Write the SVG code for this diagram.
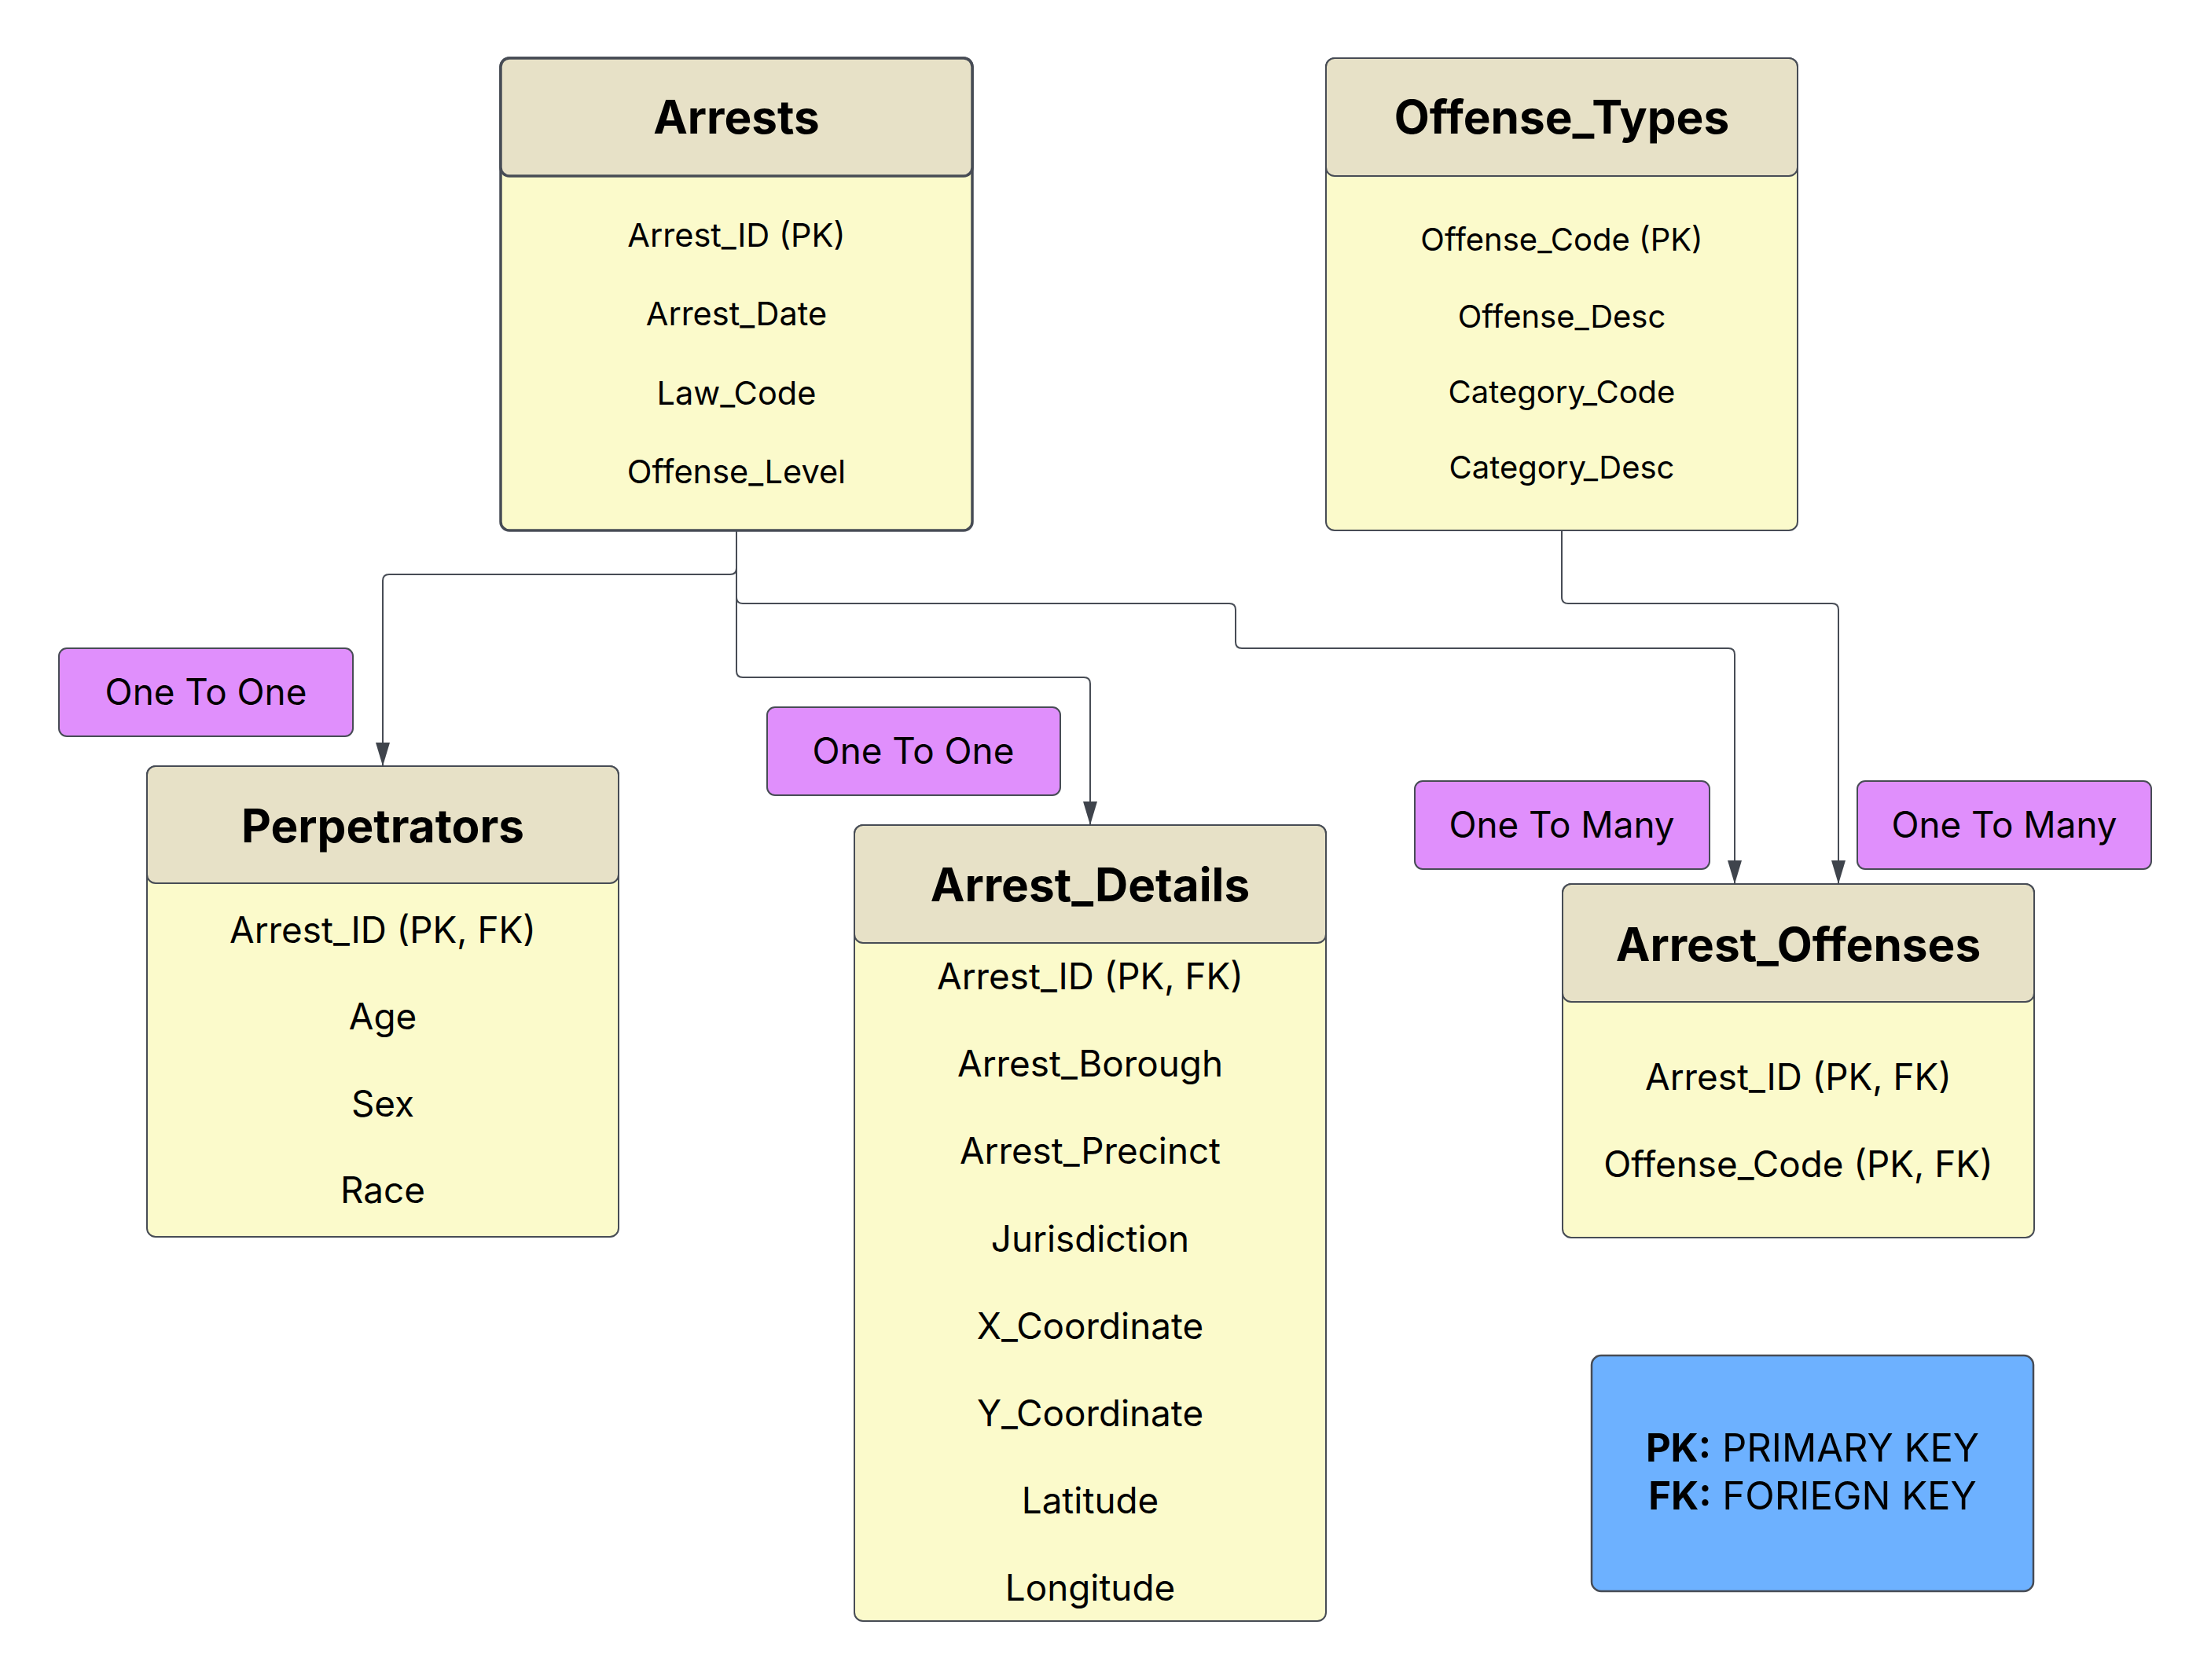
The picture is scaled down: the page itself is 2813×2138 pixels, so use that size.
<svg xmlns="http://www.w3.org/2000/svg" width="2813" height="2138" viewBox="0 0 2813 2138">
<style>
.body{fill:#FBFACB;stroke:#474c55;stroke-width:2}
.head{fill:#E7E1C7;stroke:#474c55;stroke-width:2}
.thick{stroke-width:3.5}
.lab{fill:#E08FFC;stroke:#474c55;stroke-width:2}
.leg{fill:#6DB1FF;stroke:#474c55;stroke-width:2.5}
.title{font-family:Inter,"Liberation Sans",sans-serif;font-weight:700;font-size:58.5px;fill:#000;text-anchor:middle}
.f{font-family:Inter,"Liberation Sans",sans-serif;font-size:45.8px;fill:#000;text-anchor:middle}
.conn{fill:none;stroke:#474c55;stroke-width:2}
</style>
<defs>
<marker id="arr" viewBox="0 0 30 18" refX="30" refY="9" markerWidth="30" markerHeight="18" markerUnits="userSpaceOnUse" orient="auto">
<path d="M0,0 L30,9 L0,18 z" fill="#3f444c"/>
</marker>
</defs>
<rect width="2813" height="2138" fill="#ffffff"/>
<g id="connectors">
<path class="conn" d="M937,675 V723 Q937,731 929,731 H495 Q487,731 487,739 V975" marker-end="url(#arr)"/>
<path class="conn" d="M937,675 V760 Q937,768 945,768 H1564 Q1572,768 1572,776 V817 Q1572,825 1580,825 H2199 Q2207,825 2207,833 V1125" marker-end="url(#arr)"/>
<path class="conn" d="M937,675 V854 Q937,862 945,862 H1379 Q1387,862 1387,870 V1050" marker-end="url(#arr)"/>
<path class="conn" d="M1987,675 V760 Q1987,768 1995,768 H2331 Q2339,768 2339,776 V1125" marker-end="url(#arr)"/>
</g>
<g id="arrests">
<rect class="body thick" x="637" y="74" width="600" height="601" rx="11"/>
<rect class="head thick" x="637" y="74" width="600" height="150" rx="11"/>
<text class="title" x="937" y="170">Arrests</text>
<text class="f" x="937" y="314" style="font-size:41.5px">Arrest_ID (PK)</text>
<text class="f" x="937" y="414" style="font-size:41.5px">Arrest_Date</text>
<text class="f" x="937" y="515" style="font-size:41.5px">Law_Code</text>
<text class="f" x="937" y="615" style="font-size:41.5px">Offense_Level</text>
</g>
<g id="offense_types">
<rect class="body" x="1687" y="74" width="600" height="601" rx="11"/>
<rect class="head" x="1687" y="74" width="600" height="150" rx="11"/>
<text class="title" x="1987" y="170">Offense_Types</text>
<text class="f" x="1987" y="319" style="font-size:40px">Offense_Code (PK)</text>
<text class="f" x="1987" y="417" style="font-size:40px">Offense_Desc</text>
<text class="f" x="1987" y="513" style="font-size:40px">Category_Code</text>
<text class="f" x="1987" y="609" style="font-size:40px">Category_Desc</text>
</g>
<g id="perpetrators">
<rect class="body" x="187" y="975" width="600" height="599" rx="11"/>
<rect class="head" x="187" y="975" width="600" height="149" rx="11"/>
<text class="title" x="487" y="1072">Perpetrators</text>
<text class="f" x="487" y="1200">Arrest_ID (PK, FK)</text>
<text class="f" x="487" y="1310">Age</text>
<text class="f" x="487" y="1421">Sex</text>
<text class="f" x="487" y="1531">Race</text>
</g>
<g id="arrest_details">
<rect class="body" x="1087" y="1050" width="600" height="1013" rx="11"/>
<rect class="head" x="1087" y="1050" width="600" height="150" rx="11"/>
<text class="title" x="1387" y="1147">Arrest_Details</text>
<text class="f" x="1387" y="1259">Arrest_ID (PK, FK)</text>
<text class="f" x="1387" y="1370">Arrest_Borough</text>
<text class="f" x="1387" y="1481">Arrest_Precinct</text>
<text class="f" x="1387" y="1593">Jurisdiction</text>
<text class="f" x="1387" y="1704">X_Coordinate</text>
<text class="f" x="1387" y="1815">Y_Coordinate</text>
<text class="f" x="1387" y="1926">Latitude</text>
<text class="f" x="1387" y="2037">Longitude</text>
</g>
<g id="arrest_offenses">
<rect class="body" x="1988" y="1125" width="600" height="450" rx="11"/>
<rect class="head" x="1988" y="1125" width="600" height="150" rx="11"/>
<text class="title" x="2288" y="1223">Arrest_Offenses</text>
<text class="f" x="2288" y="1387">Arrest_ID (PK, FK)</text>
<text class="f" x="2288" y="1498">Offense_Code (PK, FK)</text>
</g>
<g id="label_one_to_one_1">
<rect class="lab" x="75" y="825" width="374" height="112" rx="10"/>
<text class="f" x="262" y="897">One To One</text>
</g>
<g id="label_one_to_one_2">
<rect class="lab" x="976" y="900" width="373" height="112" rx="10"/>
<text class="f" x="1162" y="972">One To One</text>
</g>
<g id="label_one_to_many_1">
<rect class="lab" x="1800" y="994" width="375" height="112" rx="10"/>
<text class="f" x="1987" y="1066">One To Many</text>
</g>
<g id="label_one_to_many_2">
<rect class="lab" x="2363" y="994" width="374" height="112" rx="10"/>
<text class="f" x="2550" y="1066">One To Many</text>
</g>
<g id="legend">
<rect class="leg" x="2025" y="1725" width="562" height="300" rx="12"/>
<text class="f" x="2306" y="1860" style="font-size:49px"><tspan font-weight="700">PK:</tspan> PRIMARY KEY</text>
<text class="f" x="2306" y="1921" style="font-size:49px"><tspan font-weight="700">FK:</tspan> FORIEGN KEY</text>
</g>
</svg>
